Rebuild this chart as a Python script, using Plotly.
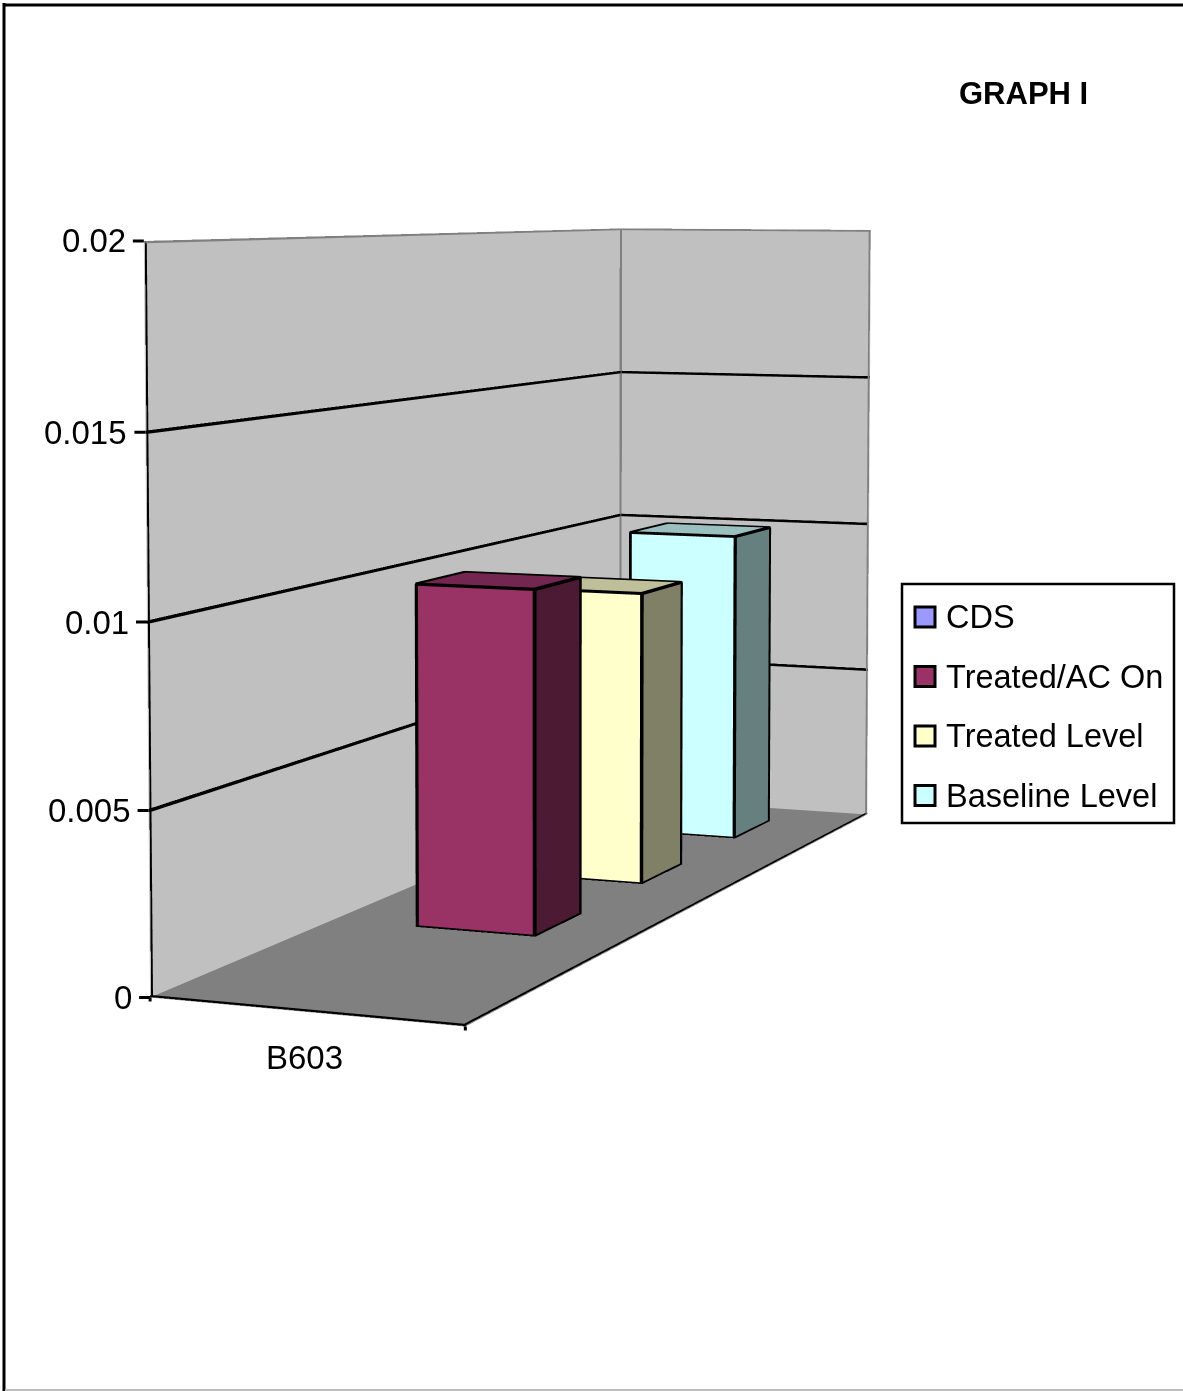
import numpy as np
import plotly.graph_objects as go

categories = ["B603"]
series_names = ["CDS", "Treated/AC On", "Treated Level", "Baseline Level"]
series_values = [None, 0.0100, 0.0090, 0.0100]
series_front = ["#9999FF", "#993366", "#FFFFCC", "#CCFFFF"]
series_top = ["#7A7ACC", "#732650", "#BFBF99", "#99BFBF"]
series_side = ["#4D4D80", "#4D1A33", "#808066", "#668080"]
z_ticks = [0, 0.005, 0.01, 0.015, 0.02]
z_labels = ["0", "0.005", "0.01", "0.015", "0.02"]
Z_MAX = 0.02

# The figure is taller than the window: the 3D camera's optical centre has to sit
# high up in the picture to keep the chart's nearly parallel verticals.
W, VIEW_H = 1183, 1391
H = 3000
SHIFT = 1050
SCENE_LEFT = 137

EYE = dict(x=2.0906, y=-5.0218, z=0.5702)
CENTER = dict(x=0.1420, y=0.0725, z=0.1756)
UP = dict(x=-0.0249, y=0.0595, z=1.0)
AX, AY = 0.4562, 1.6907
BAR_X0, BAR_X1, BAR_GAP = 0.2984, 0.7025, 0.2980

X_R, Y_R = 1.0, 4.0
SC = np.array([AX / X_R, AY / Y_R, 1 / Z_MAX])
LIGHT = dict(ambient=1, diffuse=0, specular=0, roughness=1, fresnel=0)


def beams(segs, t, color):
    """Edge lines as thin solid beams, since WebGL lines are one pixel wide."""
    vx, vy, vz, I, J, K = [], [], [], [], [], []
    for s0, s1 in segs:
        A0 = np.array(s0, float) * SC
        A1 = np.array(s1, float) * SC
        d = A1 - A0
        d = d / np.linalg.norm(d)
        ref = np.array([0, 0, 1.0]) if abs(d[2]) < .9 else np.array([1.0, 0, 0])
        n1 = np.cross(d, ref)
        n1 /= np.linalg.norm(n1)
        n2 = np.cross(d, n1)
        base = len(vx)
        for c in (A0, A1):
            for sa, sb in [(-1, -1), (1, -1), (1, 1), (-1, 1)]:
                q = (c + t * sa * n1 + t * sb * n2) / SC
                vx.append(q[0]); vy.append(q[1]); vz.append(q[2])
        for q in [(0,1,5),(0,5,4),(1,2,6),(1,6,5),(2,3,7),(2,7,6),(3,0,4),(3,4,7),(0,1,2),(0,2,3),(4,5,6),(4,6,7)]:
            I.append(base + q[0]); J.append(base + q[1]); K.append(base + q[2])
    return go.Mesh3d(x=vx, y=vy, z=vz, i=I, j=J, k=K, color=color, flatshading=True, lighting=LIGHT, hoverinfo="skip")


fig = go.Figure()
tri_i = [0,0, 4,4, 0,0, 1,1, 2,2, 3,3]
tri_j = [1,2, 5,6, 1,5, 2,6, 3,7, 0,4]
tri_k = [2,3, 6,7, 5,4, 6,5, 7,6, 4,7]
T_EDGE = 0.0021
for i, (nm, val) in enumerate(zip(series_names, series_values)):
    if val is None:
        continue
    xs = [BAR_X0, BAR_X1, BAR_X1, BAR_X0] * 2
    y0, y1 = i + BAR_GAP, i + 1 - BAR_GAP
    ys = [y0, y0, y1, y1] * 2
    zs = [0, 0, 0, 0, val, val, val, val]
    s, t_, fr = series_side[i], series_top[i], series_front[i]
    fc = [s,s, t_,t_, fr,fr, s,s, s,s, s,s]
    fig.add_trace(go.Mesh3d(x=xs, y=ys, z=zs, i=tri_i, j=tri_j, k=tri_k, facecolor=fc, flatshading=True,
                            lighting=LIGHT, hoverinfo="skip", name=nm))
    P = list(zip(xs, ys, zs))
    fig.add_trace(beams([(P[a], P[b]) for a, b in [(0,1),(1,2),(4,5),(5,6),(6,7),(7,4),(0,4),(1,5),(2,6)]], T_EDGE, "black"))

grid = []
for z in z_ticks[1:-1]:
    grid += [((0, 0, z), (0, Y_R, z)), ((0, Y_R, z), (X_R, Y_R, z))]
fig.add_trace(beams(grid, T_EDGE, "black"))
fig.add_trace(beams([((0,0,0),(X_R,0,0)), ((X_R,0,0),(X_R,Y_R,0)), ((0,0,0),(0,0,Z_MAX))], 0.0028, "black"))
fig.add_trace(beams([((0,0,Z_MAX),(0,Y_R,Z_MAX)), ((0,Y_R,Z_MAX),(X_R,Y_R,Z_MAX)), ((0,Y_R,0),(0,Y_R,Z_MAX)),
                     ((X_R,Y_R,0),(X_R,Y_R,Z_MAX))], 0.0030, "#808080"))

FONT = "Liberation Sans"
TXT = dict(family=FONT, size=33, color="black")


def axis(**kw):
    return dict(title="", showgrid=False, zeroline=False, showline=False, ticks="", showticklabels=False,
                showspikes=False, tickvals=[], showbackground=True, **kw)


s_ann = []
for z, lab in zip(z_ticks, z_labels):
    s_ann.append(dict(x=0, y=0, z=z, text=lab, showarrow=False, xanchor="right", yanchor="middle", xshift=-16, font=TXT))
    s_ann.append(dict(x=0, y=0, z=z, text=" ", showarrow=True, ax=-14, ay=0, arrowhead=0, arrowwidth=3, arrowcolor="black"))
s_ann.append(dict(x=X_R / 2, y=0, z=0, text=categories[0], showarrow=False, xanchor="center", yanchor="middle", yshift=-46, font=TXT))
for x in (0, X_R):
    s_ann.append(dict(x=x, y=0, z=0, text=" ", showarrow=True, ax=0, ay=14, arrowhead=0, arrowwidth=3, arrowcolor="black"))

fig.update_layout(
    width=W, height=H, margin=dict(l=0, r=0, t=0, b=0), paper_bgcolor="white", showlegend=False,
    scene=dict(
        domain=dict(x=[SCENE_LEFT / W, 1], y=[0, 1]),
        aspectmode="manual", aspectratio=dict(x=AX, y=AY, z=1),
        camera=dict(eye=EYE, center=CENTER, up=UP, projection=dict(type="perspective")),
        xaxis=axis(range=[0, X_R], backgroundcolor="#C0C0C0"),
        yaxis=axis(range=[0, Y_R], backgroundcolor="#C0C0C0"),
        zaxis=axis(range=[0, Z_MAX], backgroundcolor="#808080"),
        annotations=s_ann,
    ),
)


def X(px):
    return px / W


def Y(py):
    return 1 - (py + SHIFT) / H


def rect(x0, y0, x1, y1, line, width, fill):
    return dict(type="rect", xref="paper", yref="paper", x0=X(x0), x1=X(x1), y0=Y(y0), y1=Y(y1),
                line=dict(color=line, width=width), fillcolor=fill)


def seg(x0, y0, x1, y1, line, width):
    return dict(type="line", xref="paper", yref="paper", x0=X(x0), x1=X(x1), y0=Y(y0), y1=Y(y1),
                line=dict(color=line, width=width))


shapes = [seg(4, 3, 4, 1391, "black", 3), seg(3, 5, 1183, 5, "black", 3), seg(5, 1390, 1183, 1390, "#BDBDBD", 2),
          rect(902, 584, 1174, 823, "black", 2.5, "white")]
annots = [dict(text="<b>GRAPH I</b>", xref="paper", yref="paper", x=X(1023), y=Y(93), xanchor="center", yanchor="middle",
               showarrow=False, font=dict(family=FONT, size=31, color="black"))]
for i, nm in enumerate(series_names):
    yc = 617 + i * 59.5
    shapes.append(rect(915, yc - 10, 935, yc + 10, "black", 3, series_front[i]))
    annots.append(dict(text=nm, xref="paper", yref="paper", x=X(944), y=Y(yc), xanchor="left", yanchor="middle", showarrow=False,
                       font=dict(family=FONT, size=32.5, color="black")))
fig.update_layout(shapes=shapes, annotations=annots)

crop = ("var d=document.querySelector('.plotly-graph-div');d.style.marginTop='-%dpx';"
        "var h=document.documentElement,b=document.body;"
        "h.style.overflow='hidden';h.style.height='%dpx';"
        "b.style.margin='0';b.style.height='%dpx';b.style.overflow='hidden';") % (SHIFT, VIEW_H, VIEW_H)
fig.write_html("out.html", post_script=crop)
